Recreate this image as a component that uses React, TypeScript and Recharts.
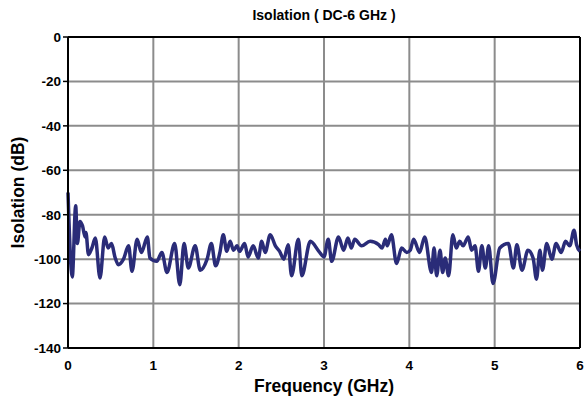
import { CartesianGrid, Label, Line, LineChart, ReferenceLine, XAxis, YAxis } from "recharts";

// frequency points (GHz)
const freqs = [
  0.0, 0.05, 0.09, 0.11, 0.14, 0.17, 0.2, 0.21, 0.24, 0.28, 0.32, 0.375, 0.43, 0.47, 0.51, 0.55, 0.59,
  0.65, 0.71, 0.75, 0.81, 0.86, 0.93, 0.96, 1.04, 1.1, 1.16, 1.25, 1.31, 1.36, 1.41, 1.49, 1.55, 1.63,
  1.68, 1.73, 1.78, 1.82, 1.86, 1.9, 1.94, 1.98, 2.01, 2.07, 2.11, 2.17, 2.23, 2.27, 2.31, 2.37, 2.43,
  2.48, 2.53, 2.58, 2.62, 2.7, 2.74, 2.84, 2.94, 3.0, 3.05, 3.09, 3.17, 3.23, 3.28, 3.32, 3.36, 3.44,
  3.54, 3.64, 3.68, 3.72, 3.74, 3.79, 3.85, 3.91, 3.97, 4.01, 4.05, 4.12, 4.18, 4.26, 4.29, 4.32, 4.36,
  4.39, 4.42, 4.46, 4.51, 4.55, 4.59, 4.63, 4.69, 4.73, 4.77, 4.81, 4.85, 4.89, 4.93, 4.98, 5.06, 5.16,
  5.22, 5.26, 5.32, 5.39, 5.45, 5.49, 5.53, 5.56, 5.61, 5.67, 5.72, 5.78, 5.83, 5.88, 5.93, 5.96, 6.0,
];

// isolation (dB)
const isolation = [
  -70, -108, -76, -93, -83, -85, -90, -88, -98, -95, -90.5, -108.5, -90, -95, -93, -99, -102.5,
  -100, -94, -105.5, -91, -97, -90, -99.5, -101, -97, -106, -93, -111.5, -93, -104, -94, -105, -100,
  -93, -103, -97, -89, -96.5, -92, -96, -94, -96.5, -93, -99, -94, -99.5, -92, -97, -89, -94,
  -96.5, -100, -93.5, -107.5, -91, -107.5, -92, -96.5, -99, -91, -101, -90, -96, -90.5, -95, -91, -94,
  -92, -93.5, -95, -91, -94, -89, -102, -95, -97, -96, -91, -97, -90, -106, -95, -107.5, -96,
  -106, -99.5, -107.5, -89, -95, -92, -94, -90, -96, -94, -105.5, -94, -104, -94, -111, -95, -93,
  -104, -93.5, -105, -96, -99.5, -109, -96, -105, -93, -100, -93, -97, -92, -94, -87, -93.5, -96.5,
];

const xTicks = [0, 1, 2, 3, 4, 5, 6];
const yTicks = [0, -20, -40, -60, -80, -100, -120, -140];

const data = freqs.map((f, i) => ({ f, v: isolation[i] }));

const font = "'Liberation Sans', Arial, sans-serif";
const tickStyle = { fontSize: 13.5, fontWeight: 700, fill: "#000", fontFamily: font };
const labelStyle = { fontSize: 17.5, fontWeight: 700, fill: "#000", fontFamily: font };

export default function App() {
  return (
    <div style={{ position: "fixed", left: 0, top: 0, width: 584, height: 400, background: "#fff", fontFamily: font }}>
      <div
        style={{
          position: "absolute",
          top: 7,
          left: 68,
          width: 512,
          textAlign: "center",
          fontSize: 14,
          fontWeight: 700,
        }}
      >
        Isolation ( DC-6 GHz )
      </div>
      <LineChart width={584} height={400} data={data} margin={{ top: 37, right: 4, bottom: 6, left: 0 }}>
        <CartesianGrid stroke="#8c8c8c" strokeWidth={2} horizontal vertical />
        <XAxis
          dataKey="f"
          type="number"
          domain={[0, 6]}
          ticks={xTicks}
          height={46}
          tick={tickStyle}
          tickLine={false}
          axisLine={{ stroke: "#000", strokeWidth: 2 }}
          tickMargin={6}
        >
          <Label value="Frequency (GHz)" position="insideBottom" offset={2} style={labelStyle} />
        </XAxis>
        <YAxis
          type="number"
          domain={[-140, 0]}
          ticks={yTicks}
          width={68}
          tick={tickStyle}
          tickSize={5}
          tickLine={{ stroke: "#000", strokeWidth: 1.5 }}
          axisLine={{ stroke: "#000", strokeWidth: 2 }}
          allowDataOverflow
        >
          <Label
            value="Isolation (dB)"
            angle={-90}
            position="insideLeft"
            offset={18}
            style={{ ...labelStyle, textAnchor: "middle" }}
          />
        </YAxis>
        <ReferenceLine y={0} stroke="#000" strokeWidth={2} />
        <ReferenceLine x={6} stroke="#000" strokeWidth={2} />
        <Line
          type="monotone"
          dataKey="v"
          stroke="#2a2c78"
          strokeWidth={3.5}
          dot={false}
          isAnimationActive={false}
        />
      </LineChart>
    </div>
  );
}
